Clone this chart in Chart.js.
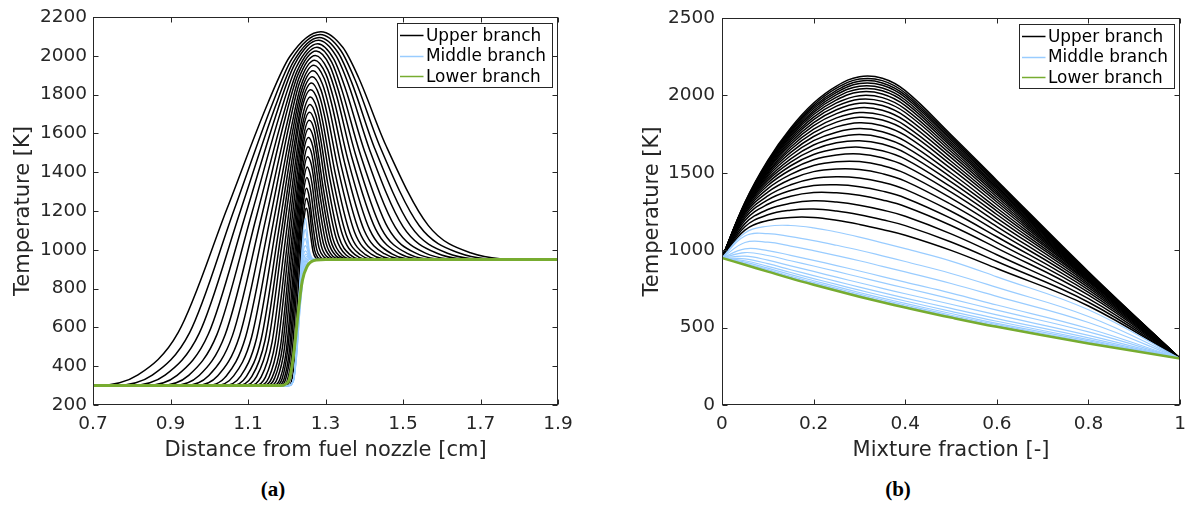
<!DOCTYPE html>
<html>
<head>
<meta charset="utf-8">
<script src="https://cdn.jsdelivr.net/npm/chart.js@4.4.0/dist/chart.umd.min.js"></script>
<style>
html,body{margin:0;padding:0;background:#fff;width:1194px;height:506px;overflow:hidden;}
#wrapA{position:absolute;left:0;top:0;width:600px;height:470px;}
#wrapB{position:absolute;left:629px;top:0;width:565px;height:470px;}
.cap{position:absolute;top:477px;font:bold 21px "Liberation Serif",serif;color:#000;transform:translateX(-50%);white-space:nowrap;}
</style>
</head>
<body>
<div id="wrapA"><canvas id="cA" width="600" height="470"></canvas></div>
<div id="wrapB"><canvas id="cB" width="565" height="470"></canvas></div>
<div class="cap" style="left:273px;">(a)</div>
<div class="cap" style="left:898px;">(b)</div>
<script>
// ---------------- DATA ----------------
const BRANCH_NAMES = ['Upper branch', 'Middle branch', 'Lower branch'];

// Panel (a): temperature [K] vs distance from fuel nozzle [cm]
const LEFT_X_TICKS = [0.7, 0.9, 1.1, 1.3, 1.5, 1.7, 1.9];
const LEFT_X_LABELS = ['0.7', '0.9', '1.1', '1.3', '1.5', '1.7', '1.9'];
const LEFT_Y_TICKS = [200, 400, 600, 800, 1000, 1200, 1400, 1600, 1800, 2000, 2200];

// upper branch profiles, [distance, T]
const LEFT_UPPER = [
  [[0.7,300],[0.707,300],[0.816,355],[0.920,574],[1.046,1213],[1.152,1760],[1.208,1997],[1.288,2125],[1.345,2043],[1.385,1890],[1.456,1538],[1.565,1126],[1.674,985],[1.826,950],[1.9,950]],
  [[0.7,300],[0.753,300],[0.853,354],[0.949,572],[1.064,1205],[1.162,1748],[1.213,1983],[1.286,2110],[1.339,2029],[1.376,1878],[1.441,1530],[1.542,1124],[1.643,985],[1.782,950],[1.9,950]],
  [[0.7,300],[0.794,300],[0.886,354],[0.974,569],[1.080,1198],[1.170,1736],[1.217,1969],[1.284,2095],[1.333,2015],[1.367,1866],[1.427,1523],[1.520,1122],[1.613,984],[1.742,950],[1.9,950]],
  [[0.7,300],[0.833,300],[0.917,353],[0.998,567],[1.095,1190],[1.177,1724],[1.220,1955],[1.282,2080],[1.327,2001],[1.359,1854],[1.414,1515],[1.500,1120],[1.586,984],[1.704,950],[1.9,950]],
  [[0.7,300],[0.870,300],[0.947,353],[1.020,564],[1.109,1182],[1.184,1710],[1.224,1940],[1.280,2063],[1.321,1985],[1.350,1840],[1.401,1507],[1.480,1117],[1.558,983],[1.667,950],[1.9,950]],
  [[0.7,300],[0.904,300],[0.974,352],[1.041,562],[1.122,1173],[1.191,1696],[1.227,1923],[1.278,2045],[1.316,1968],[1.342,1826],[1.389,1498],[1.461,1114],[1.533,983],[1.633,950],[1.9,950]],
  [[0.7,300],[0.935,300],[0.999,352],[1.060,559],[1.134,1163],[1.196,1680],[1.229,1904],[1.276,2025],[1.311,1950],[1.335,1810],[1.378,1488],[1.444,1111],[1.511,982],[1.602,950],[1.9,950]],
  [[0.7,300],[0.964,300],[1.022,351],[1.078,555],[1.145,1151],[1.202,1662],[1.231,1883],[1.274,2002],[1.306,1928],[1.329,1792],[1.368,1476],[1.429,1108],[1.490,982],[1.575,950],[1.9,950]],
  [[0.7,300],[0.991,300],[1.044,350],[1.094,552],[1.155,1139],[1.206,1642],[1.233,1861],[1.272,1978],[1.301,1906],[1.322,1772],[1.358,1464],[1.414,1104],[1.470,981],[1.547,950],[1.9,950]],
  [[0.7,300],[1.016,300],[1.063,350],[1.109,548],[1.164,1126],[1.211,1622],[1.235,1836],[1.270,1952],[1.297,1882],[1.316,1752],[1.349,1451],[1.400,1100],[1.452,980],[1.523,950],[1.9,950]],
  [[0.7,300],[1.038,300],[1.081,349],[1.122,543],[1.172,1112],[1.214,1598],[1.236,1809],[1.268,1923],[1.292,1855],[1.310,1728],[1.340,1437],[1.387,1096],[1.434,979],[1.498,950],[1.9,950]],
  [[0.7,300],[1.057,300],[1.096,348],[1.134,539],[1.179,1096],[1.217,1574],[1.237,1781],[1.266,1892],[1.288,1826],[1.304,1704],[1.332,1421],[1.375,1091],[1.418,978],[1.477,950],[1.9,950]],
  [[0.7,300],[1.074,300],[1.110,347],[1.144,534],[1.185,1080],[1.220,1548],[1.238,1751],[1.264,1860],[1.284,1796],[1.299,1678],[1.324,1405],[1.363,1087],[1.402,977],[1.456,950],[1.9,950]],
  [[0.7,300],[1.089,300],[1.122,346],[1.153,529],[1.190,1063],[1.222,1520],[1.238,1718],[1.262,1825],[1.281,1764],[1.294,1650],[1.317,1388],[1.353,1081],[1.389,976],[1.438,950],[1.9,950]],
  [[0.7,300],[1.105,300],[1.134,345],[1.162,523],[1.196,1044],[1.225,1490],[1.240,1684],[1.261,1788],[1.278,1729],[1.290,1620],[1.311,1369],[1.344,1076],[1.376,975],[1.421,950],[1.9,950]],
  [[0.7,300],[1.118,300],[1.145,344],[1.170,518],[1.201,1025],[1.227,1460],[1.241,1649],[1.260,1750],[1.275,1694],[1.286,1590],[1.305,1350],[1.334,1070],[1.364,974],[1.404,950],[1.9,950]],
  [[0.7,300],[1.129,300],[1.154,342],[1.177,512],[1.205,1005],[1.229,1428],[1.241,1611],[1.259,1710],[1.273,1657],[1.283,1558],[1.300,1330],[1.327,1064],[1.353,973],[1.390,950],[1.9,950]],
  [[0.7,300],[1.140,300],[1.162,341],[1.184,505],[1.209,984],[1.231,1394],[1.242,1572],[1.258,1668],[1.271,1618],[1.279,1524],[1.295,1309],[1.319,1058],[1.343,972],[1.376,950],[1.9,950]],
  [[0.7,300],[1.149,300],[1.169,340],[1.189,499],[1.212,963],[1.232,1360],[1.242,1532],[1.257,1625],[1.269,1578],[1.277,1490],[1.291,1288],[1.313,1051],[1.335,970],[1.366,950],[1.9,950]],
  [[0.7,300],[1.158,300],[1.176,338],[1.194,492],[1.215,940],[1.233,1323],[1.242,1489],[1.256,1579],[1.267,1535],[1.274,1453],[1.287,1265],[1.307,1044],[1.327,969],[1.355,950],[1.9,950]],
  [[0.7,300],[1.166,300],[1.183,337],[1.199,485],[1.218,916],[1.234,1285],[1.243,1445],[1.255,1531],[1.265,1490],[1.271,1415],[1.283,1241],[1.301,1037],[1.319,967],[1.345,950],[1.9,950]],
  [[0.7,300],[1.172,300],[1.188,335],[1.202,477],[1.220,890],[1.235,1244],[1.243,1397],[1.254,1480],[1.263,1443],[1.269,1374],[1.279,1215],[1.295,1030],[1.312,966],[1.334,950],[1.9,950]],
  [[0.7,300],[1.179,300],[1.193,334],[1.206,469],[1.222,864],[1.236,1202],[1.243,1348],[1.253,1427],[1.260,1394],[1.266,1332],[1.275,1189],[1.289,1022],[1.304,964],[1.323,950],[1.9,950]],
  [[0.7,300],[1.185,300],[1.197,332],[1.209,461],[1.224,837],[1.236,1158],[1.243,1298],[1.252,1373],[1.258,1343],[1.263,1288],[1.271,1162],[1.283,1013],[1.296,963],[1.313,950],[1.9,950]],
  [[0.7,300],[1.191,300],[1.202,331],[1.213,453],[1.226,809],[1.237,1114],[1.243,1247],[1.251,1318],[1.256,1292],[1.260,1244],[1.267,1134],[1.277,1005],[1.288,961],[1.302,950],[1.9,950]],
  [[0.7,300],[1.198,300],[1.208,329],[1.218,445],[1.229,783],[1.239,1073],[1.244,1198],[1.251,1266],[1.255,1244],[1.259,1203],[1.264,1108],[1.272,997],[1.281,959],[1.293,950],[1.9,950]],
  [[0.7,300],[1.204,300],[1.213,327],[1.221,437],[1.231,758],[1.239,1032],[1.244,1151],[1.250,1215],[1.254,1196],[1.256,1162],[1.261,1083],[1.268,990],[1.275,958],[1.285,950],[1.9,950]]
];

// middle branch profiles, [distance, T]
const LEFT_MIDDLE = [
  [[0.7,300],[1.208,300],[1.218,340],[1.225,500],[1.231,740],[1.237,930],[1.243,1100],[1.248,1163],[1.253,1090],[1.258,1000],[1.264,962],[1.272,951],[1.9,950]],
  [[0.7,300],[1.207,300],[1.218,340],[1.225,495],[1.231,730],[1.237,915],[1.243,1060],[1.248,1106],[1.253,1050],[1.258,985],[1.264,958],[1.272,950],[1.9,950]],
  [[0.7,300],[1.206,300],[1.218,338],[1.225,490],[1.231,720],[1.237,900],[1.243,1030],[1.248,1058],[1.253,1020],[1.258,975],[1.265,955],[1.273,950],[1.9,950]],
  [[0.7,300],[1.205,300],[1.218,336],[1.225,485],[1.232,720],[1.238,895],[1.244,1005],[1.249,1022],[1.254,995],[1.259,965],[1.266,953],[1.274,950],[1.9,950]],
  [[0.7,300],[1.204,300],[1.218,334],[1.225,480],[1.232,710],[1.238,880],[1.244,980],[1.249,995],[1.255,975],[1.261,958],[1.268,951],[1.276,950],[1.9,950]],
  [[0.7,300],[1.203,300],[1.218,332],[1.225,472],[1.232,700],[1.239,870],[1.245,960],[1.250,978],[1.256,965],[1.262,955],[1.270,950],[1.9,950]],
  [[0.7,300],[1.202,300],[1.218,330],[1.225,465],[1.233,700],[1.240,865],[1.247,950],[1.252,967],[1.258,960],[1.265,953],[1.273,950],[1.9,950]],
  [[0.7,300],[1.201,300],[1.217,325],[1.225,455],[1.233,690],[1.241,860],[1.249,945],[1.255,960],[1.262,955],[1.270,951],[1.278,950],[1.9,950]],
  [[0.7,300],[1.200,300],[1.217,320],[1.225,445],[1.234,690],[1.242,858],[1.251,940],[1.258,955],[1.266,952],[1.275,950],[1.9,950]],
  [[0.7,300],[1.198,300],[1.216,318],[1.225,440],[1.234,685],[1.243,855],[1.253,935],[1.261,952],[1.270,951],[1.280,950],[1.9,950]]
];

// lower branch profile, [distance, T]
const LEFT_LOWER = [[0.7,300],[1.184,300],[1.197,308],[1.207,335],[1.215,420],[1.222,533],[1.231,703],[1.240,839],[1.253,916],[1.264,940],[1.276,948],[1.300,950],[1.9,950]];

// Panel (b): temperature [K] vs mixture fraction [-]
const RIGHT_X_TICKS = [0, 0.2, 0.4, 0.6, 0.8, 1];
const RIGHT_X_LABELS = ['0', '0.2', '0.4', '0.6', '0.8', '1'];
const RIGHT_Y_TICKS = [0, 500, 1000, 1500, 2000, 2500];
const Z_GRID = [0, 0.05, 0.1, 0.15, 0.2, 0.25, 0.3, 0.35, 0.4, 0.5, 0.6, 0.8, 1];

const RIGHT_UPPER = [
  [950,1310,1581,1790,1951,2061,2121,2111,2031,1746,1451,861,300],
  [950,1306,1574,1780,1938,2047,2106,2096,2016,1734,1442,856,300],
  [950,1303,1568,1771,1927,2033,2092,2081,2002,1722,1433,853,300],
  [950,1301,1563,1763,1916,2020,2077,2066,1988,1711,1425,851,300],
  [950,1299,1557,1754,1903,2005,2060,2048,1971,1698,1415,847,300],
  [950,1297,1551,1745,1891,1989,2042,2030,1954,1685,1406,845,300],
  [950,1296,1546,1735,1877,1972,2023,2010,1935,1671,1396,843,300],
  [950,1294,1539,1722,1860,1952,1999,1986,1912,1654,1384,840,300],
  [950,1292,1532,1711,1844,1931,1976,1962,1890,1638,1372,837,300],
  [950,1291,1525,1698,1825,1908,1950,1935,1864,1619,1359,834,300],
  [950,1288,1517,1683,1805,1883,1921,1905,1836,1598,1344,831,300],
  [950,1286,1507,1667,1782,1855,1890,1873,1806,1575,1328,827,300],
  [950,1284,1499,1651,1760,1828,1859,1841,1776,1553,1312,823,300],
  [950,1280,1488,1632,1735,1797,1824,1805,1742,1527,1294,818,300],
  [950,1277,1476,1612,1708,1763,1786,1766,1705,1499,1273,813,300],
  [950,1272,1463,1591,1680,1729,1748,1727,1668,1471,1253,807,300],
  [950,1267,1450,1569,1650,1694,1708,1686,1629,1441,1231,800,300],
  [950,1262,1435,1546,1619,1656,1666,1643,1589,1409,1208,793,300],
  [950,1254,1418,1520,1585,1616,1622,1597,1545,1375,1182,783,300],
  [950,1245,1398,1490,1547,1572,1573,1547,1497,1337,1153,772,300],
  [950,1235,1376,1459,1508,1525,1522,1495,1447,1296,1122,759,300],
  [950,1222,1351,1423,1464,1475,1467,1439,1393,1252,1087,744,300],
  [950,1208,1325,1386,1418,1423,1411,1382,1338,1206,1051,728,300],
  [950,1192,1297,1349,1373,1371,1355,1325,1283,1160,1014,710,300],
  [950,1172,1263,1303,1319,1311,1291,1260,1220,1106,971,687,300],
  [950,1152,1229,1259,1266,1253,1229,1197,1159,1053,927,664,300],
  [950,1130,1192,1212,1212,1194,1167,1134,1097,999,882,640,300]
];

const RIGHT_MIDDLE = [
  [950,1112,1155,1160,1145,1118,1085,1048,1010,930,828,615,300],
  [950,1092,1108,1088,1062,1032,1000,964,927,850,760,572,300],
  [950,1050,1052,1027,997,965,932,896,860,785,702,533,300],
  [950,1009,998,967,935,901,866,830,794,723,646,494,300],
  [950,985,966,932,898,863,827,791,756,686,613,472,300],
  [950,962,936,899,863,826,790,754,719,651,582,450,300],
  [950,944,913,874,836,799,762,726,691,624,558,434,300],
  [950,932,896,856,817,779,742,706,672,605,541,422,300],
  [950,923,884,842,803,765,727,691,657,591,528,414,300],
  [950,916,875,832,792,754,716,680,646,580,519,407,300],
  [950,911,869,825,785,746,708,672,638,573,512,403,300]
];

const RIGHT_LOWER = [950,906,862,818,777,738,700,664,630,565,505,398,300];

// ---------------- STYLE ----------------
const COLORS = ['#000000', '#99CCFF', '#77AC30'];
const AXIS_COLOR = '#262626';
const FONT = '"DejaVu Sans", "Noto Sans", sans-serif';

Chart.defaults.font.family = FONT;
Chart.defaults.color = AXIS_COLOR;

function pairPoints(list) { return list.map(p => ({x: p[0], y: p[1]})); }
function gridPoints(ts) { return ts.map((t, k) => ({x: Z_GRID[k], y: t})); }

function dataset(points, branch, width, smooth) {
  const d = {
    data: points,
    borderColor: COLORS[branch],
    backgroundColor: COLORS[branch],
    borderWidth: width,
    pointRadius: 0,
    pointHoverRadius: 0,
    fill: false,
    order: 2 - branch
  };
  if (smooth === 'monotone') {
    d.cubicInterpolationMode = 'monotone';
  } else {
    d.cubicInterpolationMode = 'default';
    d.tension = smooth;
  }
  return d;
}

const framePlugin = {
  id: 'frame',
  afterDraw(chart) {
    const o = chart.options.plugins.frame;
    const {ctx, chartArea: a} = chart;
    const xs = chart.scales.x, ys = chart.scales.y;
    const L = Math.round(a.left) + 0.5, R = Math.round(a.right) - 0.5;
    const T = Math.round(a.top) + 0.5, B = Math.round(a.bottom) - 0.5;
    ctx.save();
    ctx.strokeStyle = AXIS_COLOR;
    ctx.lineWidth = 1;
    ctx.beginPath();
    const tl = 5;
    o.xTicks.forEach(v => {
      const p = Math.round(xs.getPixelForValue(v)) + 0.5;
      ctx.moveTo(p, B); ctx.lineTo(p, B - tl);
      ctx.moveTo(p, T); ctx.lineTo(p, T + tl);
    });
    o.yTicks.forEach(v => {
      const p = Math.round(ys.getPixelForValue(v)) + 0.5;
      ctx.moveTo(L, p); ctx.lineTo(L + tl, p);
      ctx.moveTo(R, p); ctx.lineTo(R - tl, p);
    });
    ctx.stroke();
    ctx.strokeRect(L, T, R - L, B - T);

    // legend
    const bw = 155, bh = 64;
    const bx = Math.round(a.right - 6 - bw) + 0.5, by = Math.round(a.top + 6) + 0.5;
    ctx.fillStyle = '#ffffff';
    ctx.fillRect(bx, by, bw, bh);
    ctx.strokeStyle = AXIS_COLOR;
    ctx.lineWidth = 1;
    ctx.strokeRect(bx, by, bw, bh);
    ctx.font = '16.9px ' + FONT;
    ctx.textBaseline = 'middle';
    ctx.textAlign = 'left';
    const rows = [11.7, 32.3, 52.7];
    BRANCH_NAMES.forEach((name, i) => {
      const yy = by + rows[i];
      ctx.strokeStyle = COLORS[i];
      ctx.lineWidth = 1.5;
      ctx.beginPath();
      ctx.moveTo(bx + 2.5, Math.round(yy) + 0.5);
      ctx.lineTo(bx + 26, Math.round(yy) + 0.5);
      ctx.stroke();
      ctx.fillStyle = '#000000';
      ctx.fillText(name, bx + 28.5, yy + 1);
    });
    ctx.restore();
  }
};

function makeChart(id, cfg) {
  const datasets = cfg.datasets;
  return new Chart(document.getElementById(id), {
    type: 'line',
    data: {datasets},
    plugins: [framePlugin],
    options: {
      responsive: false,
      animation: false,
      devicePixelRatio: 1,
      events: [],
      layout: {padding: {left: 0, right: cfg.padRight, top: 14, bottom: 0}},
      plugins: {
        legend: {display: false},
        tooltip: {enabled: false},
        frame: {xTicks: cfg.xTicks, yTicks: cfg.yTicks}
      },
      scales: {
        x: {
          type: 'linear',
          min: cfg.xMin, max: cfg.xMax,
          grid: {display: false, drawTicks: false},
          border: {display: false},
          afterBuildTicks: s => { s.ticks = cfg.xTicks.map(v => ({value: v})); },
          afterFit: s => { s.height = 65; },
          ticks: {
            autoSkip: false, maxRotation: 0, minRotation: 0,
            padding: 8, color: AXIS_COLOR,
            font: {size: 18.5, family: FONT},
            callback: (v) => {
              const i = cfg.xTicks.findIndex(t => Math.abs(t - v) < 1e-9);
              return i >= 0 ? cfg.xLabels[i] : '';
            }
          },
          title: {
            display: true, text: cfg.xTitle, color: AXIS_COLOR,
            font: {size: 21, family: FONT, lineHeight: 1},
            padding: {top: 0, bottom: 9}
          }
        },
        y: {
          type: 'linear',
          min: cfg.yMin, max: cfg.yMax,
          grid: {display: false, drawTicks: false},
          border: {display: false},
          afterBuildTicks: s => { s.ticks = cfg.yTicks.map(v => ({value: v})); },
          afterFit: s => { s.width = 93; },
          ticks: {
            autoSkip: false, padding: cfg.yPad, color: AXIS_COLOR,
            font: {size: 18.5, family: FONT},
            callback: (v) => String(v)
          },
          title: {
            display: true, text: 'Temperature [K]', color: AXIS_COLOR,
            font: {size: 21, family: FONT, lineHeight: 1},
            padding: {top: 13, bottom: 0}
          }
        }
      }
    }
  });
}

// ---- panel (a) ----
const dsA = [];
LEFT_UPPER.forEach(c => dsA.push(dataset(pairPoints(c), 0, 1.5, 'monotone')));
LEFT_MIDDLE.forEach(c => dsA.push(dataset(pairPoints(c), 1, 1.2, 'monotone')));
dsA.push(dataset(pairPoints(LEFT_LOWER), 2, 3, 'monotone'));

makeChart('cA', {
  datasets: dsA,
  xMin: 0.7, xMax: 1.9, yMin: 200, yMax: 2200,
  xTicks: LEFT_X_TICKS, xLabels: LEFT_X_LABELS, yTicks: LEFT_Y_TICKS,
  xTitle: 'Distance from fuel nozzle [cm]',
  padRight: 42, yPad: 6
});

// ---- panel (b) ----
const dsB = [];
RIGHT_UPPER.forEach(c => dsB.push(dataset(gridPoints(c), 0, 1.5, 0.4)));
RIGHT_MIDDLE.forEach(c => dsB.push(dataset(gridPoints(c), 1, 1.2, 0.4)));
dsB.push(dataset(gridPoints(RIGHT_LOWER), 2, 2.5, 0.4));

makeChart('cB', {
  datasets: dsB,
  xMin: 0, xMax: 1, yMin: 0, yMax: 2500,
  xTicks: RIGHT_X_TICKS, xLabels: RIGHT_X_LABELS, yTicks: RIGHT_Y_TICKS,
  xTitle: 'Mixture fraction [-]',
  padRight: 9, yPad: 7
});
</script>
</body>
</html>
